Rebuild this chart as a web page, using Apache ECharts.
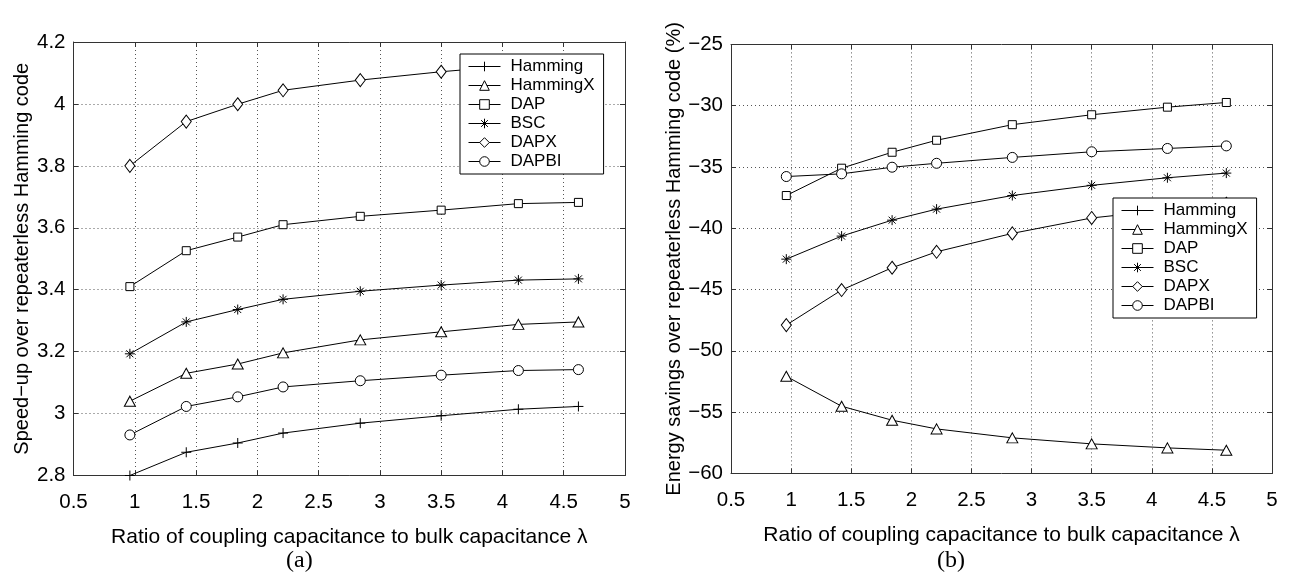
<!DOCTYPE html>
<html>
<head>
<meta charset="utf-8">
<script src="https://cdn.jsdelivr.net/npm/echarts@6/dist/echarts.min.js"></script>
<style>
html,body{margin:0;padding:0;background:#fff;}
#chart{width:1294px;height:578px;}
</style>
</head>
<body>
<div id="chart"></div>
<script>
// ---- data ----
const lambdaValues = [0.96, 1.42, 1.84, 2.21, 2.84, 3.50, 4.13, 4.62];
const seriesNames = ['Hamming', 'HammingX', 'DAP', 'BSC', 'DAPX', 'DAPBI'];

// (a) speed-up over repeaterless Hamming code
const speedHamming  = [2.800, 2.875, 2.905, 2.937, 2.969, 2.993, 3.014, 3.023];
const speedHammingX = [3.040, 3.130, 3.160, 3.196, 3.238, 3.264, 3.288, 3.296];
const speedDAP      = [3.410, 3.526, 3.570, 3.610, 3.637, 3.657, 3.678, 3.682];
const speedBSC      = [3.193, 3.296, 3.336, 3.369, 3.395, 3.415, 3.431, 3.435];
const speedDAPX     = [3.800, 3.943, 3.999, 4.044, 4.077, 4.104, 4.125, 4.135];
const speedDAPBI    = [2.931, 3.023, 3.054, 3.086, 3.106, 3.124, 3.139, 3.142];

// (b) energy savings over repeaterless Hamming code (%)
const energyHammingX = [-52.08, -54.52, -55.66, -56.37, -57.10, -57.59, -57.92, -58.11];
const energyDAP      = [-37.33, -35.10, -33.80, -32.82, -31.55, -30.74, -30.12, -29.74];
const energyBSC      = [-42.52, -40.64, -39.34, -38.44, -37.33, -36.50, -35.88, -35.50];
const energyDAPX     = [-47.90, -45.04, -43.22, -41.92, -40.42, -39.16, -38.50, -38.00];
const energyDAPBI    = [-35.78, -35.56, -35.02, -34.70, -34.22, -33.76, -33.49, -33.28];

const xTitle = 'Ratio of coupling capacitance to bulk capacitance λ';
const yTitleA = 'Speed\u2212up over repeaterless Hamming code';
const yTitleB = 'Energy savings over repeaterless Hamming code (%)';

// ---- styles ----
const FONT = 'Liberation Sans, Arial, Helvetica, sans-serif';
const symbols = {
  'Hamming':  {symbol: 'path://M0,5L10,5M5,0L5,10', size: 10},
  'HammingX': {symbol: 'triangle', size: [11, 10]},
  'DAP':      {symbol: 'rect', size: 8},
  'BSC':      {symbol: 'path://M0,5L10,5M5,0L5,10M1.5,1.5L8.5,8.5M8.5,1.5L1.5,8.5', size: 10},
  'DAPX':     {symbol: 'diamond', size: [10, 13]},
  'DAPBI':    {symbol: 'circle', size: 10}
};

function pairs(ys) { return ys.map((y, i) => [lambdaValues[i], y]); }

function mkSeries(name, ys, gi) {
  return {
    name: name, type: 'line',
    xAxisIndex: gi * 2, yAxisIndex: gi * 2,
    data: pairs(ys),
    symbol: symbols[name].symbol, symbolSize: symbols[name].size,
    showAllSymbol: true,
    lineStyle: {color: '#000', width: 1},
    itemStyle: {color: '#fff', borderColor: '#000', borderWidth: 1},
    emphasis: {disabled: true},
    animation: false, z: 3
  };
}

const axisLineStyle = {show: true, lineStyle: {color: '#333', width: 1}};
const gridLine = {show: true, lineStyle: {color: '#555', type: [1, 3], width: 1}};
const tickIn = {show: true, inside: true, length: 5, lineStyle: {color: '#333'}};

function mainX(gi, nameGap) {
  return {type: 'value', gridIndex: gi, min: 0.5, max: 5, interval: 0.5, position: 'bottom',
    axisLine: axisLineStyle, axisTick: tickIn, splitLine: gridLine,
    axisLabel: {color: '#000', fontSize: 20.5, fontFamily: FONT, margin: 16},
    name: xTitle, nameLocation: 'middle', nameGap: nameGap,
    nameTextStyle: {color: '#000', fontSize: 21, fontFamily: FONT}};
}
function topX(gi) {
  return {type: 'value', gridIndex: gi, min: 0.5, max: 5, interval: 0.5, position: 'top',
    axisLine: axisLineStyle, axisTick: tickIn, splitLine: {show: false}, axisLabel: {show: false}};
}
function mainY(gi, min, max, interval, title, nameGap) {
  return {type: 'value', gridIndex: gi, min: min, max: max, interval: interval, position: 'left',
    axisLine: axisLineStyle, axisTick: tickIn, splitLine: gridLine,
    axisLabel: {color: '#000', fontSize: 20.5, fontFamily: FONT, margin: 8,
      formatter: v => String(+v.toFixed(4)).replace('-', '\u2212')},
    name: title, nameLocation: 'middle', nameGap: nameGap, nameRotate: 90,
    nameTextStyle: {color: '#000', fontSize: 20, fontFamily: FONT}};
}
function rightY(gi, min, max, interval) {
  return {type: 'value', gridIndex: gi, min: min, max: max, interval: interval, position: 'right',
    axisLine: axisLineStyle, axisTick: tickIn, splitLine: {show: false}, axisLabel: {show: false}};
}

function mkLegend(left, top) {
  return {
    left: left, top: top, orient: 'vertical',
    data: seriesNames,
    backgroundColor: '#fff', borderColor: '#000', borderWidth: 1,
    padding: [3, 9, 3, 8], itemGap: 0, itemWidth: 32, itemHeight: 12,
    itemStyle: {borderWidth: 1},
    lineStyle: {width: 1},
    textStyle: {color: '#000', fontSize: 17, fontFamily: FONT, lineHeight: 19, padding: [0, 0, 0, 5]},
    selectedMode: false, z: 10
  };
}

const option = {
  backgroundColor: '#fff',
  animation: false,
  grid: [
    {left: 73.5, top: 42, width: 551.5, height: 433.5, containLabel: false},
    {left: 731, top: 44.4, width: 541, height: 429, containLabel: false}
  ],
  xAxis: [mainX(0, 51), topX(0), mainX(1, 51), topX(1)],
  yAxis: [
    mainY(0, 2.8, 4.2, 0.2, yTitleA, 41), rightY(0, 2.8, 4.2, 0.2),
    mainY(1, -60, -25, 5, yTitleB, 41), rightY(1, -60, -25, 5)
  ],
  legend: [mkLegend(460, 54), mkLegend(1113, 198)],
  series: [
    mkSeries('Hamming', speedHamming, 0),
    mkSeries('HammingX', speedHammingX, 0),
    mkSeries('DAP', speedDAP, 0),
    mkSeries('BSC', speedBSC, 0),
    mkSeries('DAPX', speedDAPX, 0),
    mkSeries('DAPBI', speedDAPBI, 0),
    mkSeries('HammingX', energyHammingX, 1),
    mkSeries('DAP', energyDAP, 1),
    mkSeries('BSC', energyBSC, 1),
    mkSeries('DAPX', energyDAPX, 1),
    mkSeries('DAPBI', energyDAPBI, 1)
  ],
  graphic: [
    {type: 'text', left: 286, top: 549, style: {text: '(a)', font: '24px "Liberation Serif", "Times New Roman", serif', fill: '#000'}},
    {type: 'text', left: 937, top: 549, style: {text: '(b)', font: '24px "Liberation Serif", "Times New Roman", serif', fill: '#000'}}
  ]
};

const chart = echarts.init(document.getElementById('chart'), null, {renderer: 'canvas'});
chart.setOption(option);
</script>
</body>
</html>
